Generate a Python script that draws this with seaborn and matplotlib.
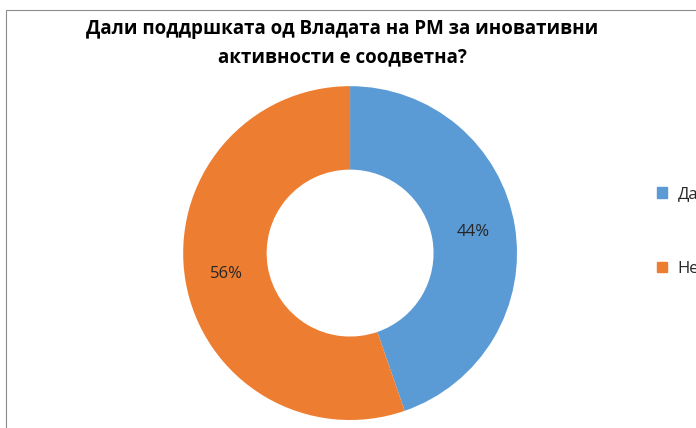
import matplotlib
matplotlib.use("Agg")
import numpy as np
import matplotlib.pyplot as plt
import matplotlib.patches as mpatches
import seaborn as sns

# -------- DATA --------
categories = ["Да", "Не"]
shares = [44.7, 55.3]          # slice sizes as measured off the chart
pct_labels = ["44%", "56%"]    # labels as printed on the chart
colors = ["#5B9BD5", "#ED7D31"]
title = "Дали поддршката од Владата на РМ за иновативни\nактивности е соодветна?"

# -------- SETTINGS --------
sns.set_theme(style="white")
plt.rcParams["font.family"] = ["Open Sans", "DejaVu Sans"]

fig = plt.figure(figsize=(6.96, 4.28), dpi=100)
ax = fig.add_axes([0.263, 0.0187, 0.48, 0.78])

wedges, _ = ax.pie(
    shares,
    colors=colors,
    startangle=90,
    counterclock=False,
    wedgeprops=dict(width=0.5, edgecolor="none"),
)

# percent labels in the middle of each ring segment
for w, lab in zip(wedges, pct_labels):
    mid = np.deg2rad((w.theta1 + w.theta2) / 2)
    ax.text(0.75 * np.cos(mid), 0.75 * np.sin(mid), lab, ha="center", va="center",
            fontsize=12, color="#262626")

ax.set_aspect("equal")
ax.set_xlim(-1, 1)
ax.set_ylim(-1, 1)
ax.axis("off")

fig.text(0.492, 0.90, title, ha="center", va="center", fontsize=13.5,
         fontweight="bold", linespacing=1.55, color="black")

handles = [mpatches.Patch(color=c) for c in colors]
fig.legend(handles, categories, loc="upper left", bbox_to_anchor=(0.935, 0.58),
           frameon=False, fontsize=12, handlelength=0.6, handleheight=0.6,
           handletextpad=0.6, labelspacing=3.5, borderaxespad=0)

# chart frame (cut at right and bottom)
frame = mpatches.Rectangle((6 / 696, -0.1), 1.2, 1.1 - 10 / 428, transform=fig.transFigure,
                           fill=False, edgecolor="#8c8c8c", lw=0.8)
fig.patches.append(frame)

fig.savefig("out.png", dpi=100)
